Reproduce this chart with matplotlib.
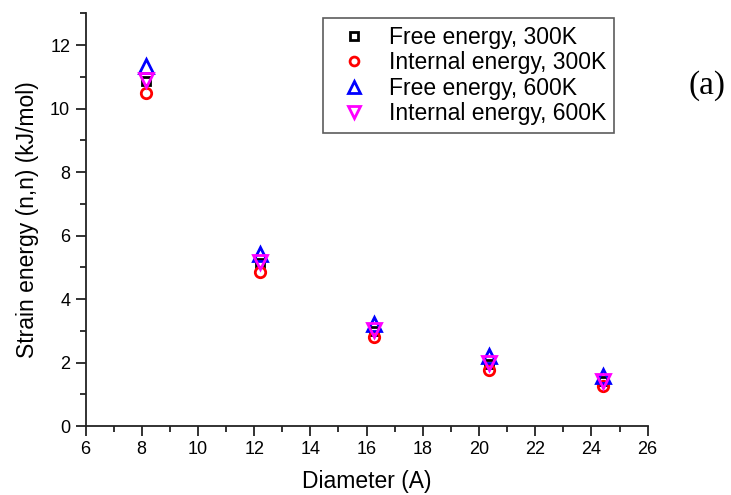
import matplotlib
matplotlib.use('Agg')
import matplotlib.pyplot as plt
from matplotlib.ticker import MultipleLocator

plt.rcParams['font.family'] = ['Liberation Sans', 'DejaVu Sans']

diameter = [8.14, 12.21, 16.28, 20.35, 24.42]
free_300 = [10.88, 5.13, 3.00, 1.96, 1.42]
internal_300 = [10.48, 4.85, 2.81, 1.78, 1.27]
free_600 = [11.35, 5.43, 3.23, 2.22, 1.58]
internal_600 = [10.90, 5.16, 3.03, 1.98, 1.42]

labels = ['Free energy, 300K', 'Internal energy, 300K',
          'Free energy, 600K', 'Internal energy, 600K']

fig = plt.figure(figsize=(7.31, 4.95), dpi=100)
ax = fig.add_axes([0.117, 0.139, 0.769, 0.834])

ax.plot(diameter, free_300, 's', ms=6.2, mfc='none', mec='black', mew=2, label=labels[0])
ax.plot(diameter, internal_300, 'o', ms=7.5, mfc='none', mec='red', mew=2, label=labels[1])
ax.plot(diameter, free_600, '^', ms=9.5, mfc='none', mec='blue', mew=2, label=labels[2])
ax.plot(diameter, internal_600, 'v', ms=9.5, mfc='none', mec='magenta', mew=2, label=labels[3])

ax.set_xlim(6, 26)
ax.set_ylim(0, 13)
ax.xaxis.set_major_locator(MultipleLocator(2))
ax.xaxis.set_minor_locator(MultipleLocator(1))
ax.yaxis.set_major_locator(MultipleLocator(2))
ax.yaxis.set_minor_locator(MultipleLocator(1))

for side in ['top', 'right']:
    ax.spines[side].set_visible(False)
for side in ['left', 'bottom']:
    ax.spines[side].set_linewidth(1.3)
    ax.spines[side].set_color('#222222')

ax.tick_params(which='major', direction='out', length=7, width=1.3, labelsize=13, pad=4, color='#222222')
ax.tick_params(which='minor', direction='out', length=4, width=1.3, color='#222222')

ax.set_xlabel('Diameter (A)', fontsize=16.5, labelpad=8)
ax.set_ylabel('Strain energy (n,n) (kJ/mol)', fontsize=16.5, labelpad=8)

leg = ax.legend(loc='upper left', bbox_to_anchor=(322.7 / 731, 1 - 18 / 495),
                bbox_transform=fig.transFigure, borderaxespad=0, fontsize=16.5,
                frameon=True, fancybox=False, edgecolor='#333333',
                handlelength=2.0, handletextpad=0.55, labelspacing=0.1,
                borderpad=0.35, numpoints=1)
leg.get_frame().set_linewidth(1.2)
for h in leg.legend_handles:
    h.set_markersize(h.get_markersize() * 0.85)

fig.text(707 / 731, 1 - 86 / 495, '(a)', fontsize=24, family='Liberation Serif',
         ha='center', va='center')

fig.savefig('out.png', dpi=100)
